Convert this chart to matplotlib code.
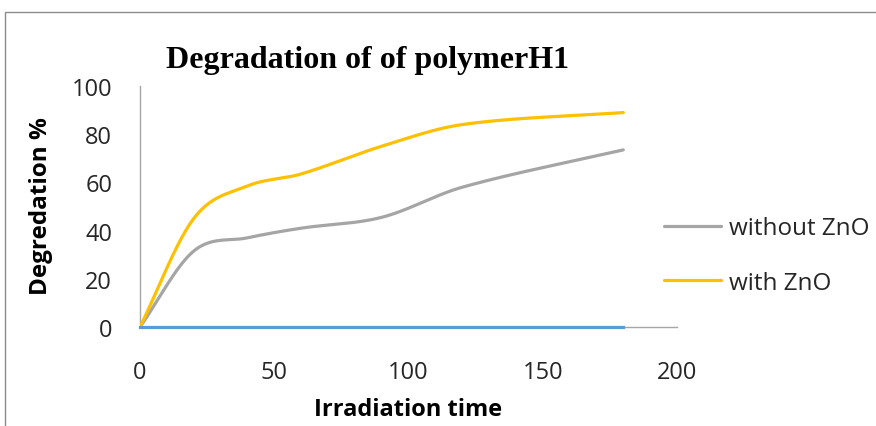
import numpy as np
import matplotlib
matplotlib.use("Agg")
import matplotlib.pyplot as plt
from matplotlib.patches import Rectangle

# data
time = [0, 20, 40, 60, 90, 120, 180]
without_zno = [0, 31.5, 37, 41, 45.5, 58, 73.5]
with_zno = [0, 45, 58.5, 63.5, 75, 84, 89]
baseline = [0, 0, 0, 0, 0, 0, 0]
x_ticks = [0, 50, 100, 150, 200]
y_ticks = [0, 20, 40, 60, 80, 100]
title = "Degradation of of polymerH1"
xlabel = "Irradiation time"
ylabel = "Degredation %"
labels = ["without ZnO", "with ZnO"]


def smooth(xs, ys, n=40):
    """Smoothed line through the points (cubic Hermite, like Excel's smoothed line)."""
    xs = np.asarray(xs, float)
    ys = np.asarray(ys, float)
    m = np.empty_like(ys)
    m[0] = (ys[1] - ys[0]) / (xs[1] - xs[0])
    m[-1] = (ys[-1] - ys[-2]) / (xs[-1] - xs[-2])
    m[1:-1] = (ys[2:] - ys[:-2]) / (xs[2:] - xs[:-2])
    ox, oy = [], []
    for i in range(len(xs) - 1):
        h = xs[i + 1] - xs[i]
        t = np.linspace(0, 1, n)
        if i > 0:
            t = t[1:]
        h00 = 2 * t ** 3 - 3 * t ** 2 + 1
        h10 = t ** 3 - 2 * t ** 2 + t
        h01 = -2 * t ** 3 + 3 * t ** 2
        h11 = t ** 3 - t ** 2
        ox.append(xs[i] + t * h)
        oy.append(h00 * ys[i] + h10 * h * m[i] + h01 * ys[i + 1] + h11 * h * m[i + 1])
    return np.concatenate(ox), np.concatenate(oy)


fig = plt.figure(figsize=(8.76, 4.27), dpi=100)
ax = fig.add_axes([140 / 876, 1 - 328 / 427, (677 - 140) / 876, (328 - 87) / 427])

sx, sy = smooth(time, without_zno)
ax.plot(sx, sy, color="#A5A5A5", lw=2.3, solid_capstyle="round", label=labels[0], zorder=3)
sx, sy = smooth(time, with_zno)
ax.plot(sx, sy, color="#FFC000", lw=2.3, solid_capstyle="round", label=labels[1], zorder=4)
ax.plot(time, baseline, color="#5B9BD5", lw=2.3, zorder=5, clip_on=False)

ax.set_xlim(0, 200)
ax.set_ylim(0, 100)
ax.set_xticks(x_ticks)
ax.set_yticks(y_ticks)
for s in ["top", "right"]:
    ax.spines[s].set_visible(False)
for s in ["left", "bottom"]:
    ax.spines[s].set_color("#A6A6A6")
    ax.spines[s].set_linewidth(1.0)
ax.tick_params(length=0, labelsize=17, colors="#262626")
ax.tick_params(axis="y", pad=20)
ax.tick_params(axis="x", pad=24)
for lab in ax.get_xticklabels() + ax.get_yticklabels():
    lab.set_fontfamily("Open Sans")

ax.set_xlabel(xlabel, fontsize=17, fontweight="bold", family="Open Sans", color="black")
ax.set_ylabel(ylabel, fontsize=17.5, fontweight="bold", family="Open Sans", color="black")
ax.yaxis.set_label_coords(-87 / 537, 0.506)
ax.xaxis.set_label_coords(0.5, -(400 - 328 - 2) / 241)
ax.xaxis.label.set_va("top")

fig.text(368 / 876, 1 - 68 / 427, title, fontsize=23, fontweight="bold",
         family="Liberation Serif", ha="center", va="baseline")

leg = ax.legend(loc="center left", bbox_to_anchor=((652 - 140) / 537, (328 - 256.5) / 241),
                frameon=False, borderpad=0,
                prop={"family": "Open Sans", "size": 17.5}, handlelength=2.35,
                labelspacing=1.25, handletextpad=0.3)
for t in leg.get_texts():
    t.set_color("#262626")

fig.patches.append(Rectangle((5 / 876, -0.05), 1.2, 1 - 13 / 427 + 0.05,
                             transform=fig.transFigure, fill=False,
                             edgecolor="#8C8C8C", lw=1.0))

fig.savefig("out.png", dpi=100)
